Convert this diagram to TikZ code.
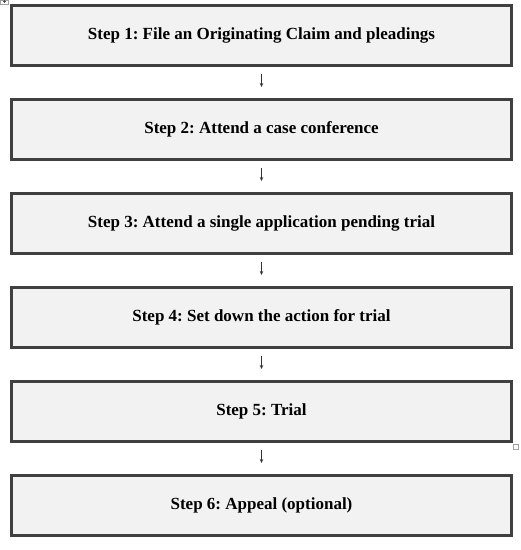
\documentclass[tikz,border=0pt]{standalone}
\usepackage{fontspec}
\setmainfont{Liberation Serif}
\usetikzlibrary{arrows.meta}
\definecolor{boxfill}{HTML}{F2F2F2}
\definecolor{boxline}{HTML}{404040}
\definecolor{handle}{HTML}{A0A0A0}
\frenchspacing
\begin{document}
\begin{tikzpicture}[x=1pt,y=-1pt,
  stepbox/.style={draw=boxline, fill=boxfill, line width=3pt, minimum width=500pt, minimum height=60pt, inner sep=0pt, font=\bfseries\fontsize{17}{20}\selectfont},
  flow/.style={draw=black!80, line width=0.8pt, -{Stealth[length=4pt,width=3.5pt]}, shorten <=7pt, shorten >=11pt}]
\useasboundingbox (0,0) rectangle (521,550);
\fill[white] (0,0) rectangle (521,550);
\node[stepbox] (s1) at (261.5,35.5) {Step 1: File an Originating Claim and pleadings};
\node[stepbox] (s2) at (261.5,129.5) {Step 2: Attend a case conference};
\node[stepbox] (s3) at (261.5,223.5) {Step 3: Attend a single application pending trial};
\node[stepbox] (s4) at (261.5,317.5) {Step 4: Set down the action for trial};
\node[stepbox] (s5) at (261.5,411.5) {Step 5: Trial};
\node[stepbox] (s6) at (261.5,505.5) {Step 6: Appeal (optional)};
\draw[flow] (s1) -- (s2);
\draw[flow] (s2) -- (s3);
\draw[flow] (s3) -- (s4);
\draw[flow] (s4) -- (s5);
\draw[flow] (s5) -- (s6);
% selection handles
\draw[handle, line width=0.6pt, fill=white] (0.3,0.3) rectangle (8,4);
\draw[black!70, line width=0.5pt] (2.5,1.5) -- (5.5,1.5) (4,0.3) -- (4,3);
\draw[handle, line width=0.6pt, fill=white] (513.5,444.5) rectangle (518,449);
\end{tikzpicture}
\end{document}
